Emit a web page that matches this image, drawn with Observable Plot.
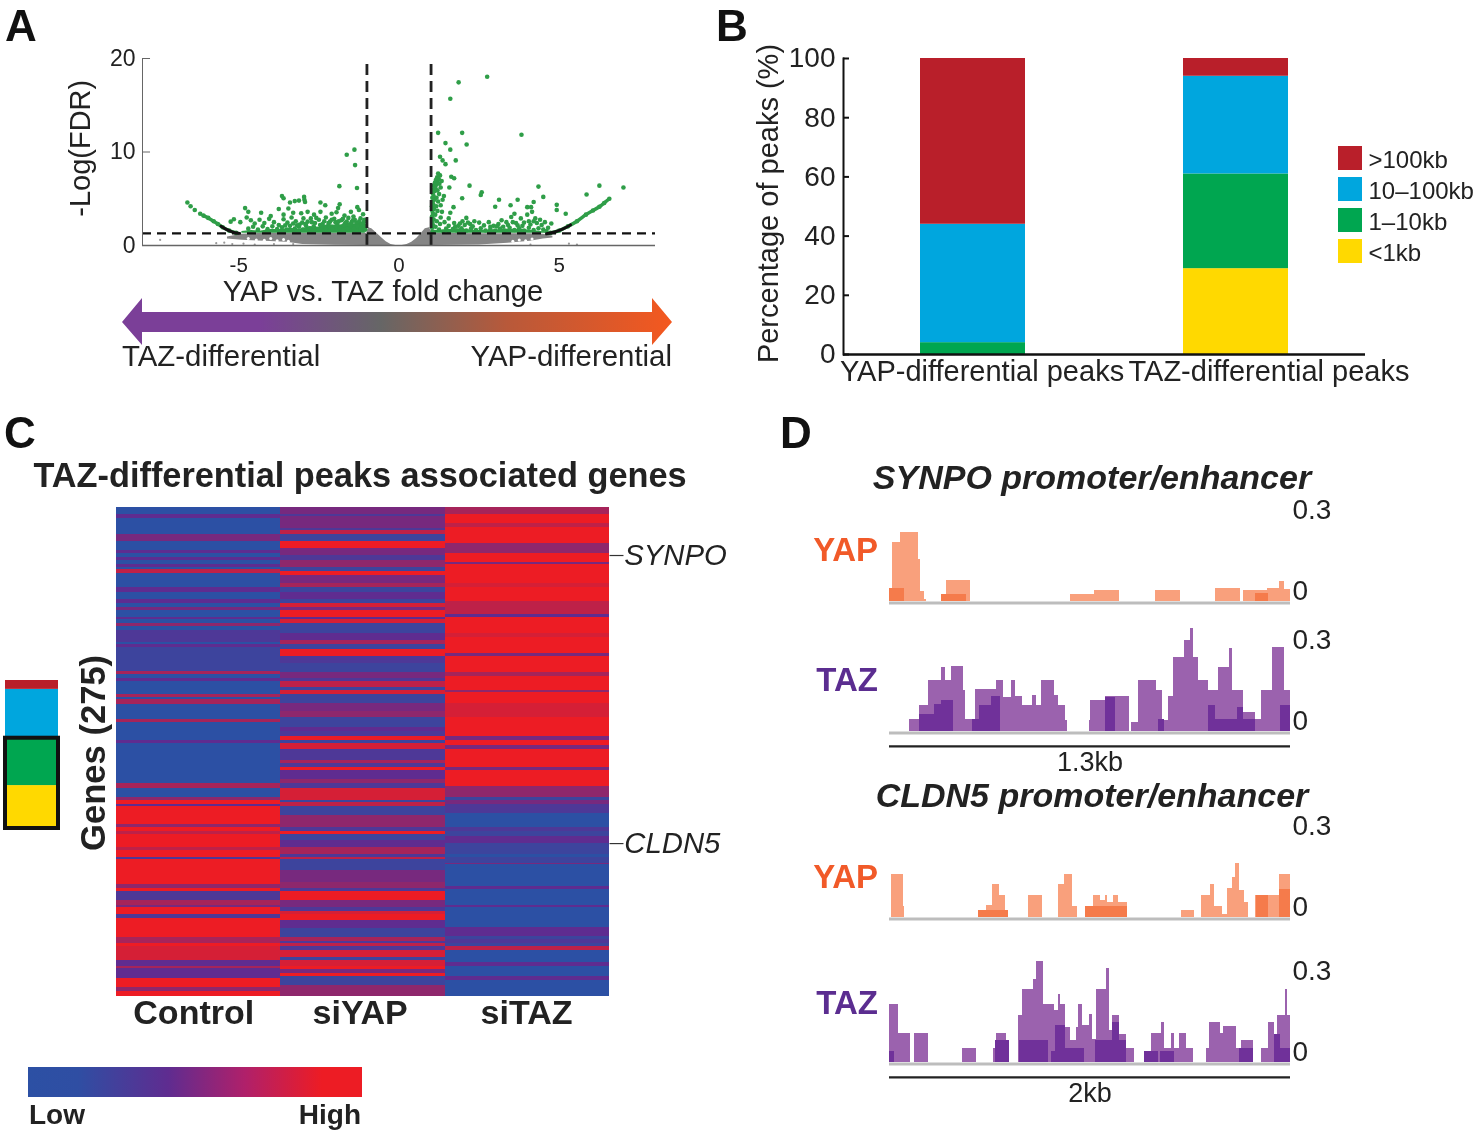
<!DOCTYPE html>
<html><head><meta charset="utf-8">
<script src="https://cdn.jsdelivr.net/npm/d3@7"></script>
<script src="https://cdn.jsdelivr.net/npm/@observablehq/plot@0.6"></script>
<style>
html,body{margin:0;background:#fff}
#page{position:relative;width:1476px;height:1133px;overflow:hidden;font-family:"Liberation Sans",Arial,sans-serif;filter:blur(.65px)}
#page>svg,#page>div{position:absolute}
.t{white-space:nowrap;color:#222;line-height:1}
</style></head><body><div id="page"></div>
<script>
// ---------- Panel A: volcano ----------
const volcanoSparse=[[2.75,18.05],[1.86,17.45],[1.6,15.7],[1.22,12.05],[1.97,12.05],[3.82,11.85],[1.45,10.95],[1.6,10.25],[2.11,10.8],[1.28,9.5],[1.36,9.1],[1.45,8.7],[1.77,9.1],[-1.39,10.25],[-1.63,9.7],[-1.37,8.6],[-1.86,6.35],[-1.31,6.15],[1.63,7.35],[1.72,7.2],[1.57,6.2],[2.2,6.4],[2.58,5.7],[2.55,5.4],[1.97,5.05],[4.35,6.3],[4.5,5.2],[4.2,4.65],[6.25,6.4],[5.85,5.45],[7.0,6.2],[3.12,4.9],[3.0,4.15],[3.48,4.3],[3.7,4.9],[4.0,4.1],[4.12,4.1],[4.92,4.35],[4.92,3.8],[5.2,3.4],[1.7,4.1]];
const volcanoNearOne=[[1.05,1.5],[1.03,1.9],[1.06,2.2],[1.04,2.5],[1.08,2.8],[1.03,3.1],[1.06,3.4],[1.04,3.7],[1.09,3.9],[1.03,4.2],[1.07,4.4],[1.05,4.7],[1.1,4.9],[1.04,5.1],[1.08,5.3],[1.05,5.6],[1.11,5.8],[1.07,6],[1.13,6.2],[1.09,6.4],[1.16,6.5],[1.12,6.7],[1.2,6.8],[1.15,7],[1.24,7.1],[1.19,7.3],[1.28,7.5],[1.22,7.7],[1.14,2],[1.18,2.6],[1.13,3.3],[1.2,3.7],[1.16,4.2],[1.22,4.7],[1.17,5.1],[1.25,5.5],[1.2,5.9],[1.3,6.2],[1.26,6.6],[1.33,6.9],[1.28,2.3],[1.3,3],[1.34,3.6],[1.3,4.3],[1.36,4.9],[1.4,5.3],[1.42,2.5],[1.47,1.8],[1.25,1.7],[1.38,1.5]];
const volcanoLeft=[[-3.65,5.3],[-3.6,5.05],[-3.4,4.6],[-3.25,4.75],[-3.12,4.8],[-2.96,5.2],[-2.95,4.9],[-2.93,4.65],[-2.45,4.6],[-2.3,4.3],[-1.85,4.4],[-1.9,4.0],[-1.3,4.1],[-1.25,3.8],[-1.12,3.35],[-4.8,4.0],[-4.7,3.6],[-4.3,3.5],[-4.0,3.15],[-3.75,3.9],[-3.45,3.95],[-3.6,3.3],[-3.3,3.5],[-3.05,3.45],[-2.85,3.6],[-2.65,3.3],[-2.45,3.6],[-2.1,3.4],[-1.95,3.55],[-1.7,3.2],[-1.5,3.6],[-1.42,3.1],[-5.15,2.8],[-5.25,2.55],[-4.95,2.5],[-4.75,3.0],[-4.62,2.7],[-4.5,2.35],[-4.35,2.75],[-4.2,2.4],[-4.05,2.85],[-3.9,2.5],[-3.75,2.2],[-3.6,2.8],[-3.48,2.45],[-3.35,3.0],[-3.22,2.6],[-3.1,2.25],[-2.98,2.9],[-2.85,2.55],[-2.75,2.9],[-2.62,2.4],[-2.5,2.75],[-2.38,2.3],[-2.28,3.0],[-2.15,2.55],[-2.02,2.85],[-1.92,2.3],[-1.8,2.7],[-1.68,2.4],[-1.58,2.95],[-1.48,2.5],[-1.38,2.75],[-1.28,2.3],[-1.2,2.9],[-1.1,2.5],[-1.05,2.1],[-4.7,1.8],[-4.55,2],[-4.4,1.7],[-4.25,2.05],[-4.1,1.75],[-3.95,2.05],[-3.8,1.75],[-3.65,1.95],[-3.5,1.7],[-3.4,2.1],[-3.25,1.8],[-3.12,2],[-3,1.7],[-2.9,2.15],[-2.78,1.85],[-2.66,2.05],[-2.55,1.75],[-2.42,2.1],[-2.3,1.8],[-2.2,2.1],[-2.08,1.75],[-1.96,2.05],[-1.85,1.85],[-1.72,2.15],[-1.62,1.8],[-1.5,2.1],[-1.4,1.8],[-1.3,2.05],[-1.2,1.75],[-1.12,2.05],[-1.05,1.7],[-2.72,2.5],[-2.58,2.95],[-2.46,2.2],[-2.33,2.6],[-2.2,2.4],[-2.1,2.75],[-1.98,2.5],[-1.88,2.6],[-1.75,2.85],[-1.63,2.55],[-1.55,2.25],[-1.44,2.7],[-1.33,2.45],[-1.24,2.6],[-1.16,2.3],[-1.08,2.75],[-3.55,2.15],[-3.3,2.35],[-3.18,2.15],[-3.02,2.45],[-2.92,2.3]];
const volcanoRight=[[1.6,3.5],[1.55,2.9],[1.72,2.4],[1.85,2.1],[1.98,2.6],[2.1,2.95],[2.22,2.3],[2.35,2.6],[2.5,2.45],[2.65,2.15],[2.8,2.5],[2.95,2.1],[3.1,2.3],[3.25,2.0],[3.35,2.5],[3.5,3.05],[3.55,2.5],[3.7,2.15],[3.8,2.9],[3.9,2.45],[4.0,3.3],[4.05,2.6],[4.15,3.6],[4.25,2.9],[4.3,2.4],[4.4,2.75],[4.45,2.2],[4.55,2.5],[4.65,1.9],[4.75,2.35],[3.6,3.4],[3.2,2.7],[2.85,2.0],[1.55,2.1],[1.68,1.75],[1.8,1.6],[1.95,1.85],[2.1,1.6],[2.25,1.85],[2.4,1.65],[2.55,1.85],[2.7,1.6],[2.85,1.75],[3,1.6],[3.15,1.8],[3.3,1.6],[3.45,1.9],[3.6,1.65],[3.75,1.85],[3.9,1.6],[4.05,1.9],[4.2,1.65],[4.35,1.85],[4.5,1.7],[4.6,1.55],[1.9,2.35],[2.05,2.2],[2.15,2.45],[3.05,2.05],[3.4,2.2],[3.65,2.4],[3.85,2.1],[4.1,2.25],[4.2,2.6],[1.55,1.55],[1.75,2],[2.3,2.05]];
const arcLeft=[[-6.6,4.6],[-6.5,4.2],[-6.37,3.8],[-6.2,3.4],[-6.1,3.2],[-5.95,2.95],[-5.78,2.6],[-5.65,2.3],[-5.5,1.95],[-5.3,1.6],[-5.08,1.35]];
const arcRight=[[4.72,1.35],[5,1.6],[5.27,2.05],[5.55,2.6],[5.83,3.3],[6.05,3.75],[6.25,4.15],[6.4,4.55],[6.56,5]];
const blackLeft=[[-5.55,2.05],[-5.4,1.75],[-5.2,1.45],[-5.0,1.3]];
const blackRight=[[4.6,1.25],[4.85,1.45],[5.1,1.75],[5.35,2.2]];
const bandLeft=[[-4.9,1.5],[-4.6,1.6],[-4.3,1.55],[-4,1.7],[-3.7,1.7],[-3.4,1.85],[-3.1,1.75],[-2.8,2],[-2.5,1.95],[-2.2,2.25],[-1.9,2.15],[-1.6,2.35],[-1.3,2.3],[-1.05,2.5]];
const bandRight=[[1.05,1.6],[1.5,1.65],[1.9,1.8],[2.4,1.6],[2.9,1.65],[3.4,1.75],[3.9,1.7],[4.3,1.55],[4.7,1.4]];
const grayBand=[[-5.35,0.7,0.9],[-4.9,0.55,1.2],[-4.2,0.45,1.3],[-3.5,0.35,1.3],[-3,0.12,1.3],[-2,0.02,1.3],[-1,0,1.3],[-0.95,0,1.9],[-0.85,0,1.8],[-0.7,0,1.35],[-0.55,0,0.85],[-0.4,0,0.4],[-0.25,0,0.12],[-0.1,0,0],[0.1,0,0],[0.25,0,0.12],[0.4,0,0.35],[0.55,0,0.75],[0.7,0,1.3],[0.82,0,1.8],[0.95,0,1.9],[1.05,0,1.3],[2.5,0.05,1.25],[3.4,0.25,1.25],[4.1,0.45,1.25],[4.5,0.7,1.2],[4.8,0.8,1]];
const whiteSpeckle=[[-4.7,0.75],[-4.45,0.6],[-4.2,0.55],[-4.0,0.75],[-3.8,0.5],[-3.6,0.65],[-3.45,0.45],[3.55,0.45],[3.75,0.6],[3.95,0.5],[4.15,0.7]];
const grayStray=[[-7.45,0.6],[-5.7,0.25],[-5.45,0.3],[-5.2,0.15],[-4.85,0.2],[-4.5,0.1],[-3.9,0.15],[-3.3,0.15],[4.1,0.1],[5.3,0.2],[5.55,0.1]];
const xTicksA=[-5,0,5], yTicksA=[0,10,20];
const cutoffs={fold:[-1,1],fdr:1.3};

// ---------- Panel B ----------
const peakSets=["YAP-differential peaks","TAZ-differential peaks"];
const sizeBins=["<1kb","1–10kb","10–100kb",">100kb"];
const binColors=["#ffd900","#00a650","#00a6de","#b91f2a"];
const yapShares=[0,4,40,56];
const tazShares=[29,32,33,6];
const shareRows=[...sizeBins.map((b,i)=>({set:peakSets[0],bin:b,share:yapShares[i]})),...sizeBins.map((b,i)=>({set:peakSets[1],bin:b,share:tazShares[i]}))];

// ---------- Panel C: heatmap, runs of [last row, level 0-9] ----------
const conditions=["Control","siYAP","siTAZ"];
const controlRuns=[[4,0],[6,3],[15,0],[19,4],[24,0],[26,3],[28,0],[30,3],[32,0],[34,3],[35,0],[37,7],[45,0],[48,3],[52,0],[54,3],[56,0],[58,4],[62,0],[63,3],[65,0],[67,5],[69,0],[76,2],[77,0],[79,3],[92,1],[94,6],[96,0],[98,3],[105,0],[107,6],[108,0],[111,6],[119,0],[121,6],[131,0],[133,3],[155,0],[158,6],[163,0],[165,5],[167,9],[168,3],[178,9],[180,5],[182,9],[184,7],[191,9],[193,7],[197,9],[198,2],[212,9],[214,5],[216,9],[221,2],[224,6],[225,4],[229,9],[231,2],[242,9],[245,6],[247,9],[255,8],[258,3],[259,6],[265,3],[270,9],[272,5],[275,9]];
const siyapRuns=[[4,4],[5,2],[12,4],[13,2],[15,7],[19,1],[23,9],[27,4],[30,2],[34,5],[36,1],[38,9],[43,4],[45,6],[48,1],[52,3],[54,1],[56,8],[58,4],[62,9],[63,3],[65,8],[71,1],[75,3],[77,6],[80,1],[84,9],[88,2],[93,1],[96,4],[98,2],[101,7],[103,1],[105,8],[110,1],[115,4],[118,5],[124,1],[126,3],[129,2],[131,9],[133,1],[136,8],[142,2],[144,6],[146,2],[148,9],[153,3],[155,5],[158,2],[165,8],[166,1],[168,7],[173,1],[180,5],[182,2],[184,9],[187,1],[191,3],[195,6],[197,2],[198,7],[204,1],[211,4],[214,5],[216,2],[221,9],[225,4],[227,2],[229,8],[232,9],[237,3],[242,1],[244,6],[245,2],[247,7],[249,2],[253,8],[255,1],[258,8],[260,9],[262,4],[264,9],[269,1],[275,5]];
const sitazRuns=[[4,6],[9,9],[11,7],[20,9],[26,5],[31,9],[32,4],[43,9],[45,8],[53,9],[60,7],[62,3],[71,9],[73,8],[82,9],[84,4],[93,9],[95,6],[103,9],[104,5],[110,9],[118,8],[129,9],[131,4],[134,9],[136,4],[146,9],[148,4],[157,9],[163,5],[165,1],[167,4],[172,2],[180,0],[182,2],[185,1],[189,3],[195,1],[197,0],[200,1],[201,4],[213,0],[215,3],[224,0],[225,3],[236,0],[241,3],[243,1],[245,2],[247,1],[249,7],[256,0],[258,3],[264,0],[266,3],[275,0]];
const geneMarks=[{name:"SYNPO",row:27},{name:"CLDN5",row:189}];

// ---------- Panel D: tracks, [start bp, end bp, signal] ----------
const synpoYapHigh=[[0,11,.043],[11,36,.219],[36,94,.256],[94,100,.157],[100,114,.037],[114,119,.006],[170,186,.025],[186,264,.077],[586,666,.025],[666,747,.04],[862,943,.04],[1057,1138,.048],[1148,1224,.04],[1224,1263,.048],[1263,1280,.074],[1280,1300,.046]];
const synpoYapLow=[[0,50,.048],[170,251,.025],[1185,1228,.031]];
const synpoTazHigh=[[64,97,.043],[97,127,.095],[127,167,.19],[167,183,.237],[183,201,.19],[201,239,.24],[239,248,.153],[248,278,.043],[278,348,.154],[348,371,.19],[371,395,.126],[395,410,.19],[410,432,.128],[432,462,.095],[462,478,.132],[478,493,.095],[493,536,.19],[536,547,.132],[547,571,.095],[571,577,.04],[647,653,.04],[653,700,.116],[700,778,.128],[783,808,.033],[808,865,.19],[865,886,.153],[886,904,.04],[904,920,.128],[920,956,.274],[956,975,.336],[975,984,.383],[984,1003,.274],[1003,1033,.19],[1033,1068,.153],[1068,1101,.237],[1101,1113,.309],[1113,1149,.153],[1149,1185,.07],[1185,1205,.043],[1205,1243,.153],[1243,1282,.311],[1282,1300,.153]];
const synpoTazLow=[[97,147,.064],[147,167,.101],[167,208,.116],[270,292,.046],[292,331,.095],[331,359,.128],[700,733,.126],[871,891,.046],[1034,1057,.095],[1057,1129,.043],[1129,1149,.089],[1149,1185,.043],[1267,1300,.095]];
const cldnYapHigh=[[9,69,.16],[69,77,.04],[446,484,.027],[484,513,.043],[513,549,.121],[549,580,.08],[580,596,.027],[694,764,.08],[845,872,.121],[872,913,.16],[913,936,.04],[977,1016,.04],[1016,1054,.08],[1054,1077,.062],[1077,1089,.08],[1089,1116,.056],[1116,1142,.08],[1142,1188,.056],[1454,1523,.027],[1554,1600,.08],[1600,1623,.121],[1623,1660,.04],[1660,1686,.012],[1686,1712,.109],[1712,1724,.148],[1724,1746,.2],[1746,1772,.099],[1772,1793,.056],[1823,1892,.08],[1892,1947,.08],[1947,2000,.16]];
const cldnYapLow=[[446,596,.027],[977,1188,.04],[1832,1892,.08],[1947,2000,.105]];
const cldnTazHigh=[[0,46,.216],[46,103,.107],[127,196,.107],[364,433,.053],[519,536,.053],[536,584,.107],[584,599,.053],[642,664,.173],[664,716,.269],[716,733,.309],[733,767,.374],[767,824,.216],[824,841,.191],[841,853,.253],[853,876,.216],[876,905,.13],[905,931,.08],[931,944,.13],[944,965,.214],[965,996,.136],[996,1013,.177],[1013,1030,.086],[1030,1082,.269],[1082,1097,.348],[1097,1114,.117],[1114,1145,.173],[1145,1180,.105],[1180,1222,.053],[1274,1308,.041],[1308,1356,.107],[1356,1374,.148],[1374,1408,.053],[1408,1423,.107],[1423,1446,.053],[1446,1483,.107],[1483,1514,.053],[1583,1597,.053],[1597,1652,.148],[1652,1665,.107],[1665,1729,.133],[1729,1755,.053],[1755,1817,.083],[1854,1889,.053],[1889,1918,.148],[1918,1935,.105],[1935,1975,.173],[1975,1985,.269],[1985,2000,.173]];
const cldnTazLow=[[0,24,.041],[527,598,.083],[647,793,.08],[807,828,.041],[828,879,.136],[879,974,.053],[1025,1111,.08],[1111,1145,.148],[1145,1180,.08],[1274,1343,.041],[1351,1420,.041],[1746,1815,.053],[1918,1952,.105],[1952,2000,.053]];

// ---------- helpers ----------
const page=document.getElementById("page");
const FONT='"Liberation Sans",Arial,sans-serif';
const INK="#222";
function place(node,left,top){node.style.left=left+"px";node.style.top=top+"px";page.appendChild(node);}
function label(text,x,y,css,anchor="center"){
  const d=document.createElement("div");d.className="t";d.textContent=text;
  d.style.cssText=css;
  const tx=anchor==="center"?"-50%":anchor==="end"?"-100%":"0";
  d.style.left=x+"px";d.style.top=y+"px";d.style.transform=`translate(${tx},-50%)`;
  page.appendChild(d);
}

// ---------- Panel A ----------
place(Plot.plot({
  width:680,height:290,marginLeft:142,marginRight:25,marginTop:58,marginBottom:45,
  style:{fontFamily:FONT,background:"transparent",overflow:"visible"},
  x:{domain:[-8,8],axis:null},y:{domain:[0,20],axis:null},
  marks:[
    Plot.areaY(grayBand,{x:d=>d[0],y1:d=>d[1],y2:d=>d[2],fill:"#858585"}),
    Plot.dot(whiteSpeckle,{x:d=>d[0],y:d=>d[1],r:1.5,fill:"#fff"}),
    Plot.dot(grayStray,{x:d=>d[0],y:d=>d[1],r:1.1,fill:"#999"}),
    Plot.areaY(bandLeft,{x:d=>d[0],y1:()=>1.3,y2:d=>d[1],fill:"#2f9e48"}),
    Plot.areaY(bandRight,{x:d=>d[0],y1:()=>1.3,y2:d=>d[1],fill:"#2f9e48"}),
    Plot.dot([...volcanoSparse,...volcanoNearOne,...volcanoLeft,...volcanoRight],{x:d=>d[0],y:d=>d[1],r:2.3,fill:"#2f9e48"}),
    Plot.dot([...arcLeft,...arcRight],{x:d=>d[0],y:d=>d[1],r:2.3,fill:"#2f9e48"}),
    Plot.line(arcLeft.slice(4),{x:d=>d[0],y:d=>d[1],stroke:"#2f9e48",strokeWidth:3.5,curve:"natural"}),
    Plot.line(arcRight,{x:d=>d[0],y:d=>d[1],stroke:"#2f9e48",strokeWidth:3.5,curve:"natural"}),
    Plot.line(blackLeft,{x:d=>d[0],y:d=>d[1],stroke:"#111",strokeWidth:3,curve:"natural"}),
    Plot.line(blackRight,{x:d=>d[0],y:d=>d[1],stroke:"#111",strokeWidth:3,curve:"natural"}),
    Plot.ruleY([cutoffs.fdr],{x1:-8,x2:8,stroke:"#111",strokeWidth:2.2,strokeDasharray:"9 6"}),
    Plot.ruleX(cutoffs.fold,{y1:0,y2:20,stroke:"#222",strokeWidth:2.8,strokeDasharray:"11 6"}),
    Plot.ruleX([-8],{y1:0,y2:20,stroke:"#666",strokeWidth:1}),
    Plot.ruleY([0],{x1:-8,x2:8,stroke:"#666",strokeWidth:1.4}),
    Plot.ruleY(yTicksA,{x1:-8,x2:-7.75,stroke:"#666",strokeWidth:1}),
    Plot.text(yTicksA,{x:-8,y:d=>d,text:String,textAnchor:"end",dx:-7,fontSize:23,fill:INK}),
    Plot.text(xTicksA,{x:d=>d,y:0,text:String,dy:20,fontSize:20.5,fill:INK}),
    Plot.text(["-Log(FDR)"],{x:-8,y:10.4,dx:-62,rotate:-90,fontSize:29,fill:INK}),
    Plot.text(["YAP vs. TAZ fold change"],{x:-0.5,y:0,dy:46,fontSize:29.2,fill:INK})
  ]
}),0,0);
{
  const a=document.createElement("div");
  a.style.cssText="width:550px;height:47px;background:linear-gradient(90deg,#7b3f98 0%,#7b3f98 25%,#666 47%,#b8593a 70%,#f4581f 100%);clip-path:polygon(0 24px,20px 0,20px 14px,530px 14px,530px 0,550px 24px,530px 47px,530px 34px,20px 34px,20px 47px)";
  place(a,122,298);
}
label("TAZ-differential",122,356,"font-size:29.4px","start");
label("YAP-differential",672,356,"font-size:29.4px","end");

// ---------- Panel B ----------
const baseB={
  style:{fontFamily:FONT,background:"transparent",overflow:"visible"},
  color:{domain:sizeBins,range:binColors}
};
place(Plot.plot({...baseB,
  width:700,height:390,marginLeft:143,marginRight:35,marginTop:58,marginBottom:36,
  x:{domain:peakSets,paddingInner:.6,paddingOuter:.29,align:.5,axis:null},
  y:{domain:[0,100],axis:null},
  marks:[
    Plot.barY(shareRows,{x:"set",y:"share",fill:"bin"}),
    Plot.ruleY([0],{stroke:"#111",strokeWidth:2.5}),
    Plot.axisY({ticks:[0,20,40,60,80,100],tickSize:-6,tickPadding:14,strokeWidth:2,stroke:"#111",fontSize:28,label:null,color:INK}),
    Plot.text(["Percentage of peaks (%)"],{frameAnchor:"left",textAnchor:"middle",y:51,dx:-75,rotate:-90,fontSize:29,fill:INK}),
    Plot.text(peakSets.slice(0,1),{x:d=>d,y:0,dy:17,dx:9,fontSize:29,fill:INK}),
    Plot.text(peakSets.slice(1),{x:d=>d,y:0,dy:17,dx:33,fontSize:29,fill:INK}),
    Plot.frame({anchor:"left",stroke:"#111",strokeWidth:2})
  ]
}),700,0);
place(Plot.plot({...baseB,
  width:140,height:117,margin:0,marginRight:116,
  x:{domain:["swatch"],padding:0,axis:null},
  y:{domain:[...sizeBins].reverse(),paddingInner:.23,paddingOuter:0,axis:null},
  marks:[
    Plot.cell(sizeBins,{x:()=>"swatch",y:d=>d,fill:d=>d}),
    Plot.text(sizeBins,{y:d=>d,frameAnchor:"left",dx:30,dy:2,text:d=>d,textAnchor:"start",fontSize:24,fill:INK})
  ]
}),1338,146);

// ---------- Panel C ----------
const heatRows=[controlRuns,siyapRuns,sitazRuns].flatMap((runs,col)=>{
  let start=0;
  return runs.map(([end,level])=>{const r={col,start,end,level};start=end;return r;});
});
place(Plot.plot({
  width:760,height:560,marginLeft:116,marginRight:151,marginTop:27,marginBottom:44,
  style:{fontFamily:FONT,background:"transparent",overflow:"visible"},
  x:{domain:[0,3],axis:null},y:{domain:[0,275],reverse:true,axis:null},
  color:{type:"linear",domain:[0,3,9],range:["#2c50a4","#5f2c90","#ed1c24"],interpolate:"rgb"},
  marks:[
    Plot.rect(heatRows,{x1:"col",x2:d=>d.col+1,y1:"start",y2:"end",fill:"level",shapeRendering:"crispEdges"}),
    Plot.link(geneMarks,{x1:3,x2:3.085,y1:"row",y2:"row",stroke:"#333",strokeWidth:1.2}),
    Plot.text(geneMarks,{x:3.09,y:"row",text:"name",textAnchor:"start",fontStyle:"italic",fontSize:29.3,fill:INK}),
    Plot.text(conditions,{x:(d,i)=>i+.47+.0125*i,y:275,dy:17,text:d=>d,fontSize:34,fontWeight:"bold",fill:INK}),
    Plot.text(["Genes (275)"],{x:-.14,y:138,rotate:-90,fontSize:34.6,fontWeight:"bold",fill:INK})
  ]
}),0,480);
label("TAZ-differential peaks associated genes",360,475,"font-size:34.3px;font-weight:bold");
{
  const miniRows=sizeBins.map((b,i)=>({set:peakSets[1],bin:b,share:tazShares[i]}));
  place(Plot.plot({...baseB,
    width:60,height:152,margin:0,marginLeft:4,marginRight:3,marginTop:2,marginBottom:2,
    x:{domain:[peakSets[1]],padding:0,axis:null},y:{domain:[0,100],axis:null},
    marks:[
      Plot.barY(miniRows,{x:"set",y:"share",fill:"bin"}),
      Plot.barY([peakSets[1]],{x:d=>d,y1:()=>0,y2:()=>tazShares[0]+tazShares[1],fill:"none",stroke:"#111",strokeWidth:4})
    ]
  }),1,678);
}
{
  const c=document.createElement("div");
  c.style.cssText="width:334px;height:30px;background:linear-gradient(90deg,#2c50a4 0%,#2f4ea3 15%,#5f2c90 42%,#b0206a 65%,#ed1c24 88%,#ed1c24 100%)";
  place(c,28,1067);
}
label("Low",29,1115,"font-size:28px;font-weight:bold","start");
label("High",361,1115,"font-size:28px;font-weight:bold","end");

// ---------- Panel D ----------
const PX=270;
function track(high,low,length,colors,baseline,bar,barText){
  const top=.4,bottom=.15;
  return place(Plot.plot({
    width:460,height:(top+bottom)*PX,margin:0,marginRight:59,
    style:{fontFamily:FONT,background:"transparent",overflow:"visible"},
    x:{domain:[0,length],axis:null},y:{domain:[-bottom,top],axis:null},
    marks:[
      Plot.rectY(high,{x1:d=>d[0],x2:d=>d[1],y1:()=>0,y2:d=>d[2],fill:colors[0],shapeRendering:"crispEdges"}),
      Plot.rectY(low,{x1:d=>d[0],x2:d=>d[1],y1:()=>0,y2:d=>d[2],fill:colors[1],shapeRendering:"crispEdges"}),
      Plot.ruleY([0],{x1:0,x2:length,stroke:"#bdbdbd",strokeWidth:3,dy:1.5}),
      Plot.text([0,.3],{x:length,y:d=>d,text:String,textAnchor:"start",dx:2,dy:-10,fontSize:28,fill:INK}),
      ...(bar?[
        Plot.ruleY([-.055],{x1:0,x2:length,stroke:"#222",strokeWidth:2.4}),
        Plot.text([barText],{x:length/2,y:-.115,text:d=>d,fontSize:27,fill:INK})
      ]:[])
    ]
  }),889,baseline-top*PX);
}
const ORANGE=["#f9a07c","#f57b4b"],PURPLE=["#9b62ae","#70319a"];
track(synpoYapHigh,synpoYapLow,1300,ORANGE,601,false);
track(synpoTazHigh,synpoTazLow,1300,PURPLE,731,true,"1.3kb");
track(cldnYapHigh,cldnYapLow,2000,ORANGE,917,false);
track(cldnTazHigh,cldnTazLow,2000,PURPLE,1062,true,"2kb");
const titleCss="font-size:34px;font-weight:bold;font-style:italic";
label("SYNPO promoter/enhancer",1092,477,titleCss);
label("CLDN5 promoter/enhancer",1092,795,titleCss);
const yapCss="font-size:33px;font-weight:bold;color:#f15a29",tazCss="font-size:33px;font-weight:bold;color:#5b2d90";
label("YAP",878,549,yapCss,"end");label("TAZ",878,679,tazCss,"end");
label("YAP",878,876,yapCss,"end");label("TAZ",878,1002,tazCss,"end");

// ---------- Panel letters ----------
const letterCss="font-size:44px;font-weight:bold;color:#111";
label("A",5,25.5,letterCss,"start");label("B",716,25.5,letterCss,"start");
label("C",4,433,letterCss,"start");label("D",780,433,letterCss,"start");
</script></body></html>
